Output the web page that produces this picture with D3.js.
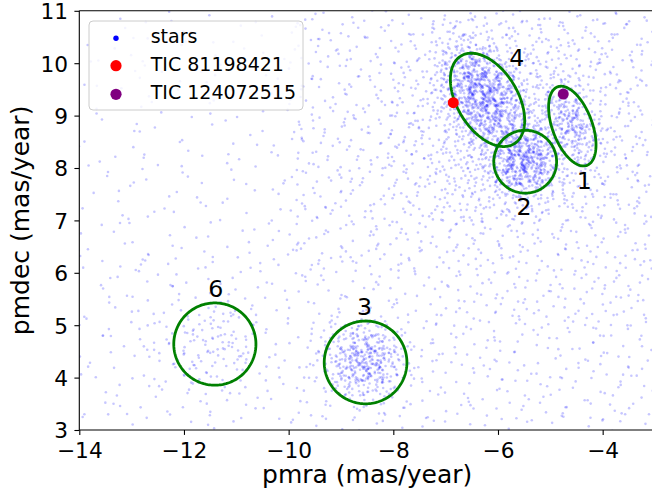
<!DOCTYPE html>
<html><head><meta charset="utf-8">
<script src="https://cdn.jsdelivr.net/npm/d3@7"></script>
<style>
body{margin:0;background:#fff;}
svg{display:block;font-family:"DejaVu Sans",sans-serif;}
</style></head><body>
<svg id="chart" width="652" height="496"></svg>
<script>
// ---------------- data ----------------
const pmraTicks = [-14, -12, -10, -8, -6, -4];
const pmdecTicks = [3, 4, 5, 6, 7, 8, 9, 10, 11];
const pmraDomain = [-14, -3];
const pmdecDomain = [3, 11];

// Star counts, binned in 0.25 x 0.25 mas/yr cells.
// Row 0 is the top (pmdec 11 .. 10.75), column 0 is pmra -14 .. -13.75.
const starBinSize = 0.25;
const starBinPmra0 = -14;
const starBinPmdec0 = 11;
const starCountRows = [
[0,1,0,1,1,0,0,1,0,1,0,0,1,0,1,1, 2,1,2,1,2,2,1,1,2,1,2,2, 3,4,3,3,2,4,1,3,2,3,2,2,2,3,2,2],
[1,0,0,1,0,1,1,0,1,0,0,1,0,1,0,1, 1,2,2,1,2,1,2,2,1,2,2,4, 5,5,5,3,3,3,4,3,3,2,3,2,2,2,2,3],
[0,1,1,0,1,0,0,1,1,0,1,0,0,1,1,0, 2,1,1,2,2,1,2,1,2,2,2,5, 8,11,8,6,5,4,3,3,2,4,3,2,3,2,2,2],
[1,0,0,1,0,1,0,1,0,0,1,1,0,1,0,1, 1,2,2,2,1,2,1,2,2,2,4,6, 15,19,18,12,7,6,4,4,4,3,3,3,2,3,2,2],
[0,1,0,1,1,0,1,0,0,1,0,1,1,0,0,1, 2,1,2,1,2,2,1,2,2,3,3,9, 19,30,33,23,12,7,5,6,5,4,4,3,3,2,3,2],
[1,0,1,0,0,1,0,1,1,0,1,0,0,1,1,0, 1,2,1,2,2,1,2,2,3,3,3,9, 20,38,46,37,21,10,7,6,8,7,4,4,3,2,2,3],
[0,1,0,0,1,1,0,1,0,1,0,0,1,0,1,0, 2,2,2,1,2,1,2,3,3,2,4,7, 17,34,50,48,29,14,8,9,14,13,6,3,4,3,2,2],
[1,0,1,0,0,1,1,0,0,1,1,0,1,0,0,1, 1,2,2,2,1,2,2,3,2,4,4,6, 13,25,41,45,33,19,10,9,18,24,12,4,3,3,3,2],
[0,1,0,1,0,0,1,0,1,0,0,1,0,1,1,0, 2,2,1,2,2,2,1,3,3,4,3,6, 8,16,28,34,30,20,13,11,17,30,18,6,3,3,2,2],
[1,0,0,1,0,1,0,1,0,0,1,0,1,0,0,1, 2,1,2,2,2,2,2,2,3,4,4,4, 7,11,16,23,27,28,23,14,14,25,20,7,4,3,2,2],
[1,0,1,1,0,1,0,1,1,0,1,0,1,1,0,1, 2,2,1,2,2,2,1,3,3,4,3,5, 6,7,10,18,30,42,40,24,14,15,15,7,3,4,2,2],
[0,1,1,0,1,0,1,1,0,1,0,1,1,0,1,0, 1,2,2,2,1,2,2,3,3,2,4,5, 6,6,8,15,31,51,49,29,12,8,10,5,3,3,2,3],
[1,0,1,0,1,1,0,1,0,1,1,0,1,1,0,1, 2,2,1,2,2,2,1,3,3,3,4,3, 5,5,7,12,24,37,36,22,11,5,5,4,3,3,3,2],
[0,1,0,1,1,0,1,0,1,1,0,1,0,1,1,0, 2,1,2,2,2,1,2,2,3,2,3,4, 4,6,5,7,12,17,18,11,6,4,3,4,3,2,2,2],
[1,0,1,1,0,1,0,1,1,0,1,1,0,0,1,1, 2,2,2,1,2,2,2,1,3,3,2,3, 4,4,5,5,6,7,7,5,5,3,3,3,2,3,2,2],
[0,1,1,0,1,0,1,1,0,1,0,1,1,0,1,0, 1,2,2,2,2,1,2,2,2,1,3,3, 4,3,4,4,4,5,4,3,3,3,3,3,2,2,3,2],
[1,0,1,0,1,1,0,1,0,1,1,0,1,0,1,1, 2,2,1,2,2,2,2,1,2,2,2,1, 3,3,3,2,3,3,3,2,3,3,2,2,1,2,2,2],
[0,1,1,0,1,0,1,1,0,1,0,1,1,0,0,1, 2,1,2,2,2,1,2,2,1,2,2,2, 2,2,2,2,3,2,3,1,2,2,2,1,2,2,2,2],
[1,1,0,1,1,2,1,0,1,1,1,0,1,2,1,1, 2,2,2,1,2,2,1,2,2,2,2,1, 2,2,2,3,2,2,2,1,2,2,2,2,2,1,2,2],
[1,0,1,1,2,1,1,1,0,1,1,1,2,0,1,1, 2,1,2,2,2,1,2,2,2,2,1,2, 2,2,1,2,2,2,2,2,1,2,2,2,2,2,1,2],
[1,1,1,0,1,1,2,1,1,0,1,1,1,1,0,1, 1,1,2,1,1,1,2,1,1,1,2,1, 2,2,2,2,1,2,2,2,2,1,2,2,2,2,2,2],
[0,1,1,1,1,0,1,1,1,1,2,1,0,1,1,1, 1,2,1,1,1,1,1,2,1,1,1,1, 2,1,2,2,2,2,1,2,2,2,2,1,2,2,2,2],
[1,1,0,1,1,1,1,2,1,2,2,2,3,1,1,0, 1,1,1,2,1,1,1,1,2,1,1,1, 2,2,2,1,2,2,2,2,2,2,1,2,2,2,2,2],
[1,0,1,1,1,1,1,2,3,2,4,3,2,2,0,1, 1,1,2,2,2,3,3,2,1,1,2,1, 2,2,1,2,2,2,2,1,2,2,2,2,2,1,2,2],
[1,1,1,0,1,1,2,2,4,4,4,4,3,3,1,1, 1,1,2,5,8,11,10,6,3,1,1,1, 1,2,1,2,1,1,1,2,1,2,1,1,2,1,2,1],
[1,1,0,1,1,2,2,3,3,5,5,4,3,1,1,1, 1,2,3,7,16,22,21,12,5,2,2,1, 2,1,1,2,1,2,1,1,2,1,1,2,1,2,1,1],
[1,0,1,1,1,1,2,3,3,4,4,3,3,2,1,1, 1,1,4,11,21,31,28,17,7,2,1,2, 1,1,2,1,2,1,1,1,2,1,2,1,1,2,1,2],
[1,1,1,0,1,1,1,2,4,3,2,3,2,2,0,1, 1,2,4,9,18,28,24,14,6,2,2,1, 2,1,1,2,1,1,2,1,1,2,1,1,2,1,1,2],
[1,0,1,1,1,2,1,0,2,2,2,2,1,1,1,1, 1,1,3,5,10,15,14,8,3,1,1,1, 1,2,1,1,2,1,1,2,1,1,2,1,2,1,1,1],
[0,1,1,1,0,1,1,1,1,0,2,1,1,2,1,0, 1,1,1,3,4,5,5,3,3,1,1,1, 2,1,1,2,1,1,1,2,1,1,1,2,1,1,2,1],
[1,1,0,1,1,1,0,1,1,2,1,0,1,1,1,1, 2,1,1,1,1,3,2,1,1,1,2,1, 1,1,2,1,1,1,2,1,1,2,1,1,1,2,1,1],
[1,0,1,1,1,0,1,1,0,1,1,1,1,0,1,1, 1,1,1,2,1,1,1,1,1,2,1,1, 1,2,1,1,1,2,1,1,2,1,1,1,2,1,1,1]
];

// Selection ellipses (centre, semi-axes in mas/yr, angle in degrees)
const clusterNames      = ["1", "2", "3", "4", "6"];
const clusterPmra       = [-4.58, -5.48, -8.53, -6.20, -11.41];
const clusterPmdec      = [8.80, 8.12, 4.29, 9.30, 4.64];
const clusterSemiMajor  = [0.80, 0.60, 0.79, 0.98, 0.785];
const clusterSemiMinor  = [0.38, 0.60, 0.79, 0.58, 0.785];
const clusterAngle      = [110.5, 0, 0, 121.2, 0];
const clusterLabelPmra  = [-4.35, -5.50, -8.55, -5.64, -11.39];
const clusterLabelPmdec = [7.76, 7.26, 5.35, 10.12, 5.70];

// Highlighted targets
const ticNames = ["TIC 81198421", "TIC 124072515"];
const ticPmra  = [-6.854, -4.753];
const ticPmdec = [9.246, 9.41];

// ---------------- drawing ----------------
const starColor = "#0000ff";
const ticColors = ["#ff0000", "#800080"];
const ellipseColor = "#008000";
const font = '"DejaVu Sans", sans-serif';

const svg = d3.select("#chart");
const plot = {left: 79.3, right: 655, top: 10.8, bottom: 430};
const x = d3.scaleLinear().domain(pmraDomain).range([plot.left, plot.right]);
const y = d3.scaleLinear().domain(pmdecDomain).range([plot.bottom, plot.top]);

svg.append("defs").append("clipPath").attr("id", "plotclip")
  .append("rect")
  .attr("x", plot.left).attr("y", plot.top)
  .attr("width", plot.right - plot.left).attr("height", plot.bottom - plot.top);

// stars: each binned count is laid out inside its cell with a fixed Halton pattern
function halton(index, base) {
  let f = 1, r = 0;
  while (index > 0) { f /= base; r += f * (index % base); index = Math.floor(index / base); }
  return r;
}
const stars = [];
let g = 0;
starCountRows.forEach((row, j) => {
  row.forEach((n, i) => {
    const cx = starBinPmra0 + (i + 0.5) * starBinSize;
    const cy = starBinPmdec0 - (j + 0.5) * starBinSize;
    for (let k = 0; k < n; k++) {
      g++;
      const m = (g * 104729) % 1000003;
      const u = halton(m, 2), v = halton(m, 3);
      stars.push([cx + (u - 0.5) * starBinSize * 1.8, cy + (v - 0.5) * starBinSize * 1.8]);
    }
  });
});

svg.append("g").attr("clip-path", "url(#plotclip)")
  .selectAll("circle").data(stars).join("circle")
  .attr("cx", d => x(d[0])).attr("cy", d => y(d[1]))
  .attr("r", 1.3)
  .attr("fill", starColor).attr("fill-opacity", 0.22);

// ellipses
const ellipseLine = d3.line().x(d => x(d[0])).y(d => y(d[1])).curve(d3.curveLinearClosed);
const ellipses = clusterNames.map((name, k) => {
  const th = clusterAngle[k] * Math.PI / 180;
  const pts = d3.range(0, 360, 2).map(t => {
    const a = t * Math.PI / 180;
    const ex = clusterSemiMajor[k] * Math.cos(a), ey = clusterSemiMinor[k] * Math.sin(a);
    return [clusterPmra[k] + ex * Math.cos(th) - ey * Math.sin(th),
            clusterPmdec[k] + ex * Math.sin(th) + ey * Math.cos(th)];
  });
  return {name, pts};
});
svg.append("g").selectAll("path").data(ellipses).join("path")
  .attr("d", d => ellipseLine(d.pts))
  .attr("fill", "none").attr("stroke", ellipseColor).attr("stroke-width", 2.8);

// highlighted targets
svg.append("g").selectAll("circle").data(ticNames).join("circle")
  .attr("cx", (d, k) => x(ticPmra[k])).attr("cy", (d, k) => y(ticPmdec[k]))
  .attr("r", 5.5).attr("fill", (d, k) => ticColors[k]);

// cluster labels
const labelSize = 23.7;
svg.append("g").selectAll("text").data(clusterNames).join("text")
  .attr("x", (d, k) => x(clusterLabelPmra[k]))
  .attr("y", (d, k) => y(clusterLabelPmdec[k]) + 0.3645 * labelSize)
  .attr("text-anchor", "middle")
  .attr("font-family", font).attr("font-size", labelSize).attr("fill", "#000")
  .text(d => d);

// spines
const spine = svg.append("g").attr("stroke", "#000").attr("stroke-width", 1.1).attr("fill", "none");
spine.append("line").attr("x1", plot.left).attr("x2", plot.right).attr("y1", plot.top).attr("y2", plot.top);
spine.append("line").attr("x1", plot.left).attr("x2", plot.right).attr("y1", plot.bottom).attr("y2", plot.bottom);
spine.append("line").attr("x1", plot.left).attr("x2", plot.left).attr("y1", plot.top).attr("y2", plot.bottom);
spine.append("line").attr("x1", plot.right).attr("x2", plot.right).attr("y1", plot.top).attr("y2", plot.bottom);

// axes
const tickSize = 21.7;
const gx = svg.append("g").attr("transform", `translate(0,${plot.bottom})`)
  .call(d3.axisBottom(x).tickValues(pmraTicks).tickSize(4.9).tickFormat(d3.format("d")));
gx.select(".domain").remove();
gx.selectAll(".tick line").attr("stroke", "#000").attr("stroke-width", 1.1);
gx.selectAll(".tick text").attr("y", 28).attr("dy", null)
  .attr("font-family", font).attr("font-size", tickSize).attr("fill", "#000");

const gy = svg.append("g").attr("transform", `translate(${plot.left},0)`)
  .call(d3.axisLeft(y).tickValues(pmdecTicks).tickSize(4.9).tickFormat(d3.format("d")));
gy.select(".domain").remove();
gy.selectAll(".tick line").attr("stroke", "#000").attr("stroke-width", 1.1);
gy.selectAll(".tick text").attr("x", -11.3).attr("dy", "0.3645em")
  .attr("font-family", font).attr("font-size", tickSize).attr("fill", "#000");

// axis titles
svg.append("text").attr("x", (plot.left + plot.right) / 2).attr("y", 483)
  .attr("text-anchor", "middle").attr("font-family", font).attr("font-size", 25).attr("fill", "#000")
  .text("pmra (mas/year)");
svg.append("text").attr("transform", `translate(29,${(plot.top + plot.bottom) / 2}) rotate(-90)`)
  .attr("text-anchor", "middle").attr("font-family", font).attr("font-size", 25).attr("fill", "#000")
  .text("pmdec (mas/year)");

// legend
const legend = svg.append("g");
legend.append("rect").attr("x", 89).attr("y", 21).attr("width", 214).attr("height", 89)
  .attr("rx", 4).attr("fill", "#fff").attr("fill-opacity", 0.8)
  .attr("stroke", "#cccccc").attr("stroke-width", 1);
const legendItems = [
  {label: "stars", color: starColor, r: 2.7},
  {label: ticNames[0], color: ticColors[0], r: 5.6},
  {label: ticNames[1], color: ticColors[1], r: 5.6}
];
const legendRowY = [38.3, 65.7, 94.3];
legendItems.forEach((it, k) => {
  legend.append("circle").attr("cx", 116).attr("cy", legendRowY[k]).attr("r", it.r).attr("fill", it.color);
  legend.append("text").attr("x", 150.7).attr("y", legendRowY[k] + 4.9)
    .attr("font-family", font).attr("font-size", 19).attr("fill", "#000").text(it.label);
});
</script>
</body></html>
